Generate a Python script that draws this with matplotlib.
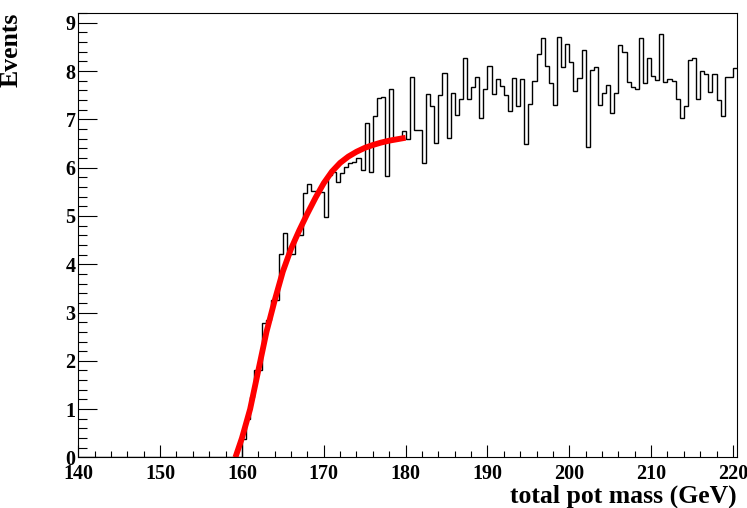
"""Total pot mass histogram with the turn-on fit, ROOT style."""

import matplotlib.pyplot as plt
import numpy as np
from matplotlib.ticker import MultipleLocator

# histogram: 0.5 GeV bins from 140 to 220.5, empty below 160
bin_low = 140.0
bin_width = 0.5
empty_bins = 40
counts_from_160 = [
    0.38, 0.79, 1.26, 1.81, 1.81, 2.79, 2.84, 3.26, 3.26, 4.22,
    4.64, 4.22, 4.22, 4.60, 4.60, 5.47, 5.66, 5.52, 5.49, 5.49,
    4.98, 5.85, 5.92, 5.71, 5.88, 6.02, 6.09, 6.12, 6.20, 5.95,
    6.92, 5.92, 7.08, 7.44, 7.46, 5.83, 7.64, 6.60, 6.62, 6.76,
    6.59, 7.88, 6.79, 6.78, 6.10, 7.53, 7.28, 6.52, 7.50, 7.97,
    6.61, 7.55, 7.09, 7.42, 8.28, 7.42, 7.67, 7.88, 7.02, 7.62,
    8.10, 7.52, 7.83, 7.69, 7.50, 7.17, 7.85, 7.28, 7.83, 6.49,
    7.32, 7.79, 8.35, 8.69, 8.11, 7.76, 7.30, 8.70, 8.09, 8.57,
    8.18, 7.59, 7.86, 8.43, 6.43, 8.02, 8.09, 7.30, 7.54, 7.71,
    7.14, 7.55, 8.55, 8.39, 7.78, 7.68, 7.63, 8.68, 7.76, 8.28,
    7.90, 7.81, 8.77, 7.78, 7.84, 7.80, 7.43, 7.03, 7.28, 8.23,
    8.28, 7.43, 8.01, 7.95, 7.57, 7.95, 7.40, 7.07, 7.88, 7.88,
    8.07,
]

# fitted curve
fit_mass = [159.2, 160.0, 161.0, 162.0, 163.0, 164.0, 165.0, 166.0, 167.0,
            168.0, 169.0, 170.0, 171.0, 172.0, 173.0, 174.0, 175.0, 176.0,
            177.0, 178.0, 179.0, 180.0]
fit_events = [0.00, 0.40, 1.00, 1.80, 2.60, 3.25, 3.85, 4.32, 4.70,
              5.05, 5.38, 5.68, 5.92, 6.10, 6.23, 6.33, 6.41, 6.47,
              6.52, 6.56, 6.59, 6.62]

x_ticks = [140, 150, 160, 170, 180, 190, 200, 210, 220]
y_ticks = [0, 1, 2, 3, 4, 5, 6, 7, 8, 9]


def main() -> None:
    plt.rcParams["font.family"] = "Liberation Serif"
    plt.rcParams["font.weight"] = "bold"

    counts = np.concatenate([np.zeros(empty_bins), counts_from_160])
    edges = bin_low + bin_width * np.arange(len(counts) + 1)

    fig = plt.figure(figsize=(7.47, 5.08), dpi=100)
    ax = fig.add_axes([0.1048, 0.0996, 0.8818, 0.8754])

    ax.stairs(counts, edges, color="black", linewidth=1.0, baseline=None)
    ax.plot(fit_mass, fit_events, color="#ff0000", linewidth=4.2,
            solid_capstyle="butt")

    ax.set_xlim(140, 220.5)
    ax.set_ylim(0, 9.21)
    ax.set_xticks(x_ticks)
    ax.set_yticks(y_ticks)
    ax.xaxis.set_minor_locator(MultipleLocator(2))
    ax.yaxis.set_minor_locator(MultipleLocator(0.2))
    ax.tick_params(axis="both", which="both", direction="in",
                   top=False, right=False, labelsize=14.5, width=0.8)
    ax.tick_params(axis="x", which="major", length=8.5, pad=5)
    ax.tick_params(axis="x", which="minor", length=4)
    ax.tick_params(axis="y", which="major", length=13.5, pad=2)
    ax.tick_params(axis="y", which="minor", length=6.5)
    for spine in ax.spines.values():
        spine.set_linewidth(0.8)

    fig.text(0.9866, 1 - 503 / 508, "total pot mass (GeV)", ha="right",
             va="baseline", fontsize=18.5, fontweight="bold")
    fig.text(0.0150, 0.975, "Events", rotation=90, ha="center", va="top",
             fontsize=18.5, fontweight="bold")

    fig.savefig("out.png", dpi=100)


if __name__ == "__main__":
    main()
